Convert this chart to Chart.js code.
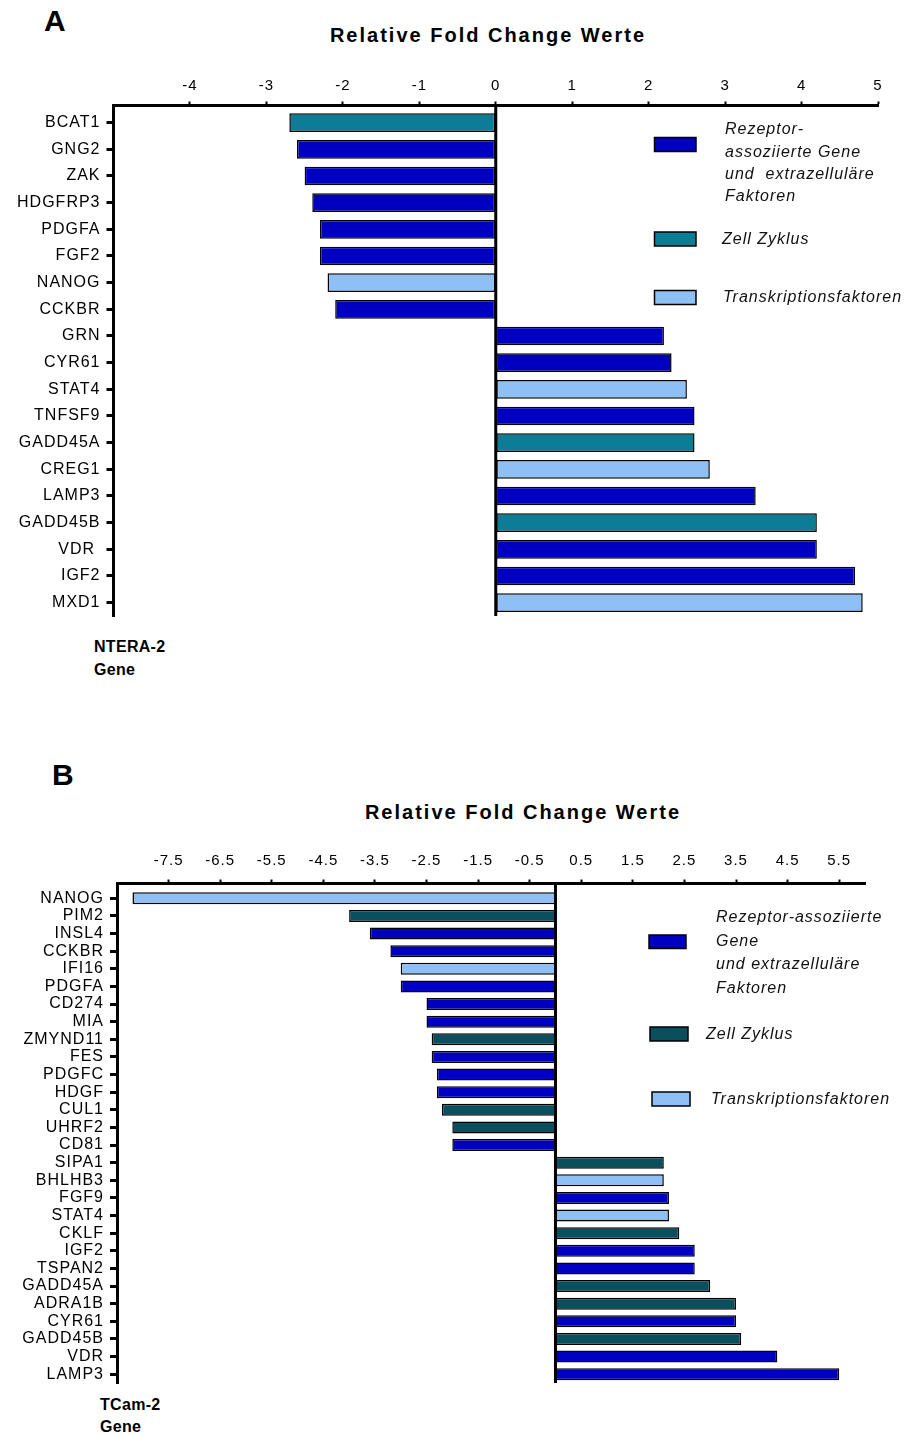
<!DOCTYPE html>
<html>
<head>
<meta charset="utf-8">
<script src="https://cdn.jsdelivr.net/npm/chart.js@4.4.1/dist/chart.umd.min.js"></script>
<style>
  html, body { margin:0; padding:0; background:#fff; }
  body { width:906px; height:1435px; position:relative; overflow:hidden;
         font-family:"Liberation Sans", Arial, sans-serif; color:#000; }
  .t { position:absolute; white-space:nowrap; line-height:1; }
  .panel { font-weight:bold; font-size:30px; }
  .title { font-weight:bold; font-size:20px; letter-spacing:2px; transform:translateX(-50%); }
  .cap { font-weight:bold; font-size:16px; letter-spacing:0.3px; }
  canvas { position:absolute; left:0; }
</style>
</head>
<body>
<div class="t panel" style="left:44px;top:6px;">A</div>
<div class="t title" style="left:488px;top:25px;">Relative Fold Change Werte</div>
<div class="t cap" style="left:94px;top:639px;">NTERA-2</div>
<div class="t cap" style="left:94px;top:662px;">Gene</div>

<div class="t panel" style="left:52px;top:760px;">B</div>
<div class="t title" style="left:523px;top:802px;">Relative Fold Change Werte</div>
<div class="t cap" style="left:100px;top:1397px;">TCam-2</div>
<div class="t cap" style="left:100px;top:1419px;">Gene</div>

<canvas id="cA" width="906" height="700" style="top:0px;"></canvas>
<canvas id="cB" width="906" height="735" style="top:700px;"></canvas>

<script>
// ---------------- DATA ----------------
const genesA = ['BCAT1','GNG2','ZAK','HDGFRP3','PDGFA','FGF2','NANOG','CCKBR','GRN','CYR61',
                'STAT4','TNFSF9','GADD45A','CREG1','LAMP3','GADD45B','VDR ','IGF2','MXD1'];
const valuesA = [-2.7,-2.6,-2.5,-2.4,-2.3,-2.3,-2.2,-2.1,2.2,2.3,
                 2.5,2.6,2.6,2.8,3.4,4.2,4.2,4.7,4.8];
// 0 = Rezeptor-assoziierte Gene..., 1 = Zell Zyklus, 2 = Transkriptionsfaktoren
const groupA = [1,0,0,0,0,0,2,0,0,0, 2,0,1,2,0,1,0,0,2];

const genesB = ['NANOG','PIM2','INSL4','CCKBR','IFI16','PDGFA','CD274','MIA','ZMYND11','FES',
                'PDGFC','HDGF','CUL1','UHRF2','CD81','SIPA1','BHLHB3','FGF9','STAT4','CKLF',
                'IGF2','TSPAN2','GADD45A','ADRA1B','CYR61','GADD45B','VDR','LAMP3'];
const valuesB = [-8.2,-4.0,-3.6,-3.2,-3.0,-3.0,-2.5,-2.5,-2.4,-2.4,
                 -2.3,-2.3,-2.2,-2.0,-2.0,2.1,2.1,2.2,2.2,2.4,
                 2.7,2.7,3.0,3.5,3.5,3.6,4.3,5.5];
const groupB = [2,1,0,0,2,0,0,0,1,0, 0,0,1,1,0,1,2,0,2,1, 0,0,1,1,0,1,0,0];

const groupNames = ['Rezeptor-assoziierte Gene und extrazelluläre Faktoren','Zell Zyklus','Transkriptionsfaktoren'];
const legendLinesA = [['Rezeptor-','assoziierte Gene','und  extrazelluläre','Faktoren'],['Zell Zyklus'],['Transkriptionsfaktoren']];
const legendLinesB = [['Rezeptor-assoziierte','Gene','und extrazelluläre','Faktoren'],['Zell Zyklus'],['Transkriptionsfaktoren']];
const colorsA = ['#0000C0','#0B7E95','#8EC0F6'];
const colorsB = ['#0000C0','#0A4F5E','#8EC0F6'];

const xTicksA = [-4,-3,-2,-1,0,1,2,3,4,5];
const xRangeA = [-5,5];
const xTicksB = [-7.5,-6.5,-5.5,-4.5,-3.5,-2.5,-1.5,-0.5,0.5,1.5,2.5,3.5,4.5,5.5];
const xRangeB = [-8.5,6];

// ---------------- PLUGINS ----------------
Chart.defaults.font.family = '"Liberation Sans", Arial, sans-serif';
Chart.defaults.color = '#000';

const spacing = {
  id:'spacing',
  beforeUpdate(c){ c.ctx.letterSpacing = '1px'; },
  beforeDraw(c){ c.ctx.letterSpacing = '1px'; }
};
// shift the first category band a little below the top axis line
const bandShift = {
  id:'bandShift',
  afterLayout(chart, args, o){
    const y = chart.scales.y;
    y._startPixel = chart.chartArea.top + (o.offset || 0);
    y._length = y._endPixel - y._startPixel;
  }
};
const zeroLine = {
  id:'zeroLine',
  afterDatasetsDraw(chart){
    const ctx = chart.ctx, a = chart.chartArea;
    const x = chart.scales.x.getPixelForValue(0);
    ctx.save();
    ctx.strokeStyle = '#000'; ctx.lineWidth = 3;
    ctx.beginPath(); ctx.moveTo(x, a.top); ctx.lineTo(x, a.bottom); ctx.stroke();
    ctx.restore();
  }
};
const groupLegend = {
  id:'groupLegend',
  afterDraw(chart, args, o){
    const ctx = chart.ctx;
    ctx.save();
    ctx.letterSpacing = '1px';
    chart.data.datasets.forEach((ds, i) => {
      const b = o.boxes[i];
      ctx.fillStyle = ds.backgroundColor;
      ctx.fillRect(b.x, b.y, b.w, b.h);
      ctx.strokeStyle = '#000'; ctx.lineWidth = 1.5;
      ctx.strokeRect(b.x, b.y, b.w, b.h);
      ctx.fillStyle = '#111';
      ctx.font = 'italic 16px "Liberation Sans", Arial, sans-serif';
      ctx.textAlign = 'left'; ctx.textBaseline = 'middle';
      const t = o.text[i];
      o.lines[i].forEach((s, j) => ctx.fillText(s, t.x, t.y + j * o.lineGap));
    });
    ctx.restore();
  }
};

function build(id, genes, values, groups, colors, ticks, range, lines, geo){
  const datasets = groupNames.map((n, g) => ({
    label: n,
    data: values.map((v, i) => groups[i] === g ? v : null),
    backgroundColor: colors[g],
    borderColor: '#000',
    borderWidth: 1.5,
    borderSkipped: false,
    barPercentage: geo.barPct,
    categoryPercentage: 1,
    grouped: false
  }));
  return new Chart(document.getElementById(id), {
    type: 'bar',
    data: { labels: genes, datasets },
    options: {
      indexAxis: 'y',
      responsive: false,
      animation: false,
      events: [],
      layout: { padding: { top:0, left:0, right:geo.padRight, bottom:geo.padBottom } },
      plugins: {
        legend: { display:false },
        tooltip: { enabled:false },
        bandShift: { offset: geo.offset },
        groupLegend: { boxes: geo.boxes, text: geo.text, lines: lines, lineGap: geo.lineGap }
      },
      scales: {
        x: {
          type: 'linear', position: 'top', min: range[0], max: range[1],
          afterBuildTicks: s => { s.ticks = ticks.map(v => ({ value: v })); },
          afterFit: s => { s.height = geo.top; },
          ticks: { color:'#000', font:{ size:15 }, padding: geo.xPad, autoSkip:false, maxRotation:0,
                   callback: v => String(v) },
          grid: { drawOnChartArea:false, tickLength:4, tickWidth:2, tickColor:'#000', color:'#000' },
          border: { display:true, width:3, color:'#000' }
        },
        y: {
          type: 'category', position: 'left', offset: true,
          afterFit: s => { s.width = geo.left; },
          ticks: { color:'#000', font:{ size:16 }, padding:6, autoSkip:false },
          grid: { offset:false, drawOnChartArea:false, tickLength:7, tickWidth:3, tickColor:'#000', color:'#000' },
          border: { display:true, width:3, color:'#000' }
        }
      }
    },
    plugins: [spacing, bandShift, zeroLine, groupLegend]
  });
}

build('cA', genesA, valuesA, groupA, colorsA, xTicksA, xRangeA, legendLinesA, {
  top:105.5, left:113.5, padRight:28, padBottom:84, offset:3.8, barPct:0.7, xPad:6.5,
  boxes:[{x:654.5,y:137.5,w:41.5,h:14},{x:654.5,y:232,w:41.5,h:14},{x:654.5,y:290.5,w:41.5,h:14}],
  text:[{x:725,y:130},{x:722,y:240},{x:723,y:298}], lineGap:22.3
});
build('cB', genesB, valuesB, groupB, colorsB, xTicksB, xRangeB, legendLinesB, {
  top:183.5, left:117, padRight:41, padBottom:52, offset:6, barPct:0.68, xPad:9.8,
  boxes:[{x:649,y:235,w:37,h:13.5},{x:650,y:327,w:38,h:14},{x:652,y:392,w:38,h:14}],
  text:[{x:716,y:218},{x:706,y:335},{x:711,y:400}], lineGap:23.5
});
</script>
</body>
</html>
